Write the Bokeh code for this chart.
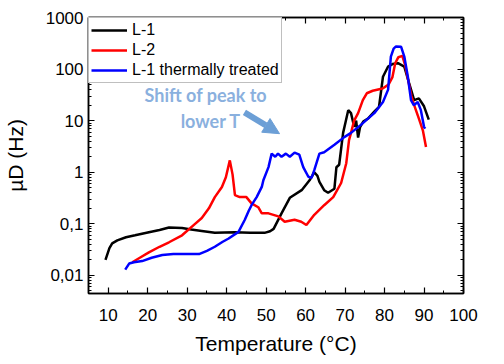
from bokeh.plotting import figure
from bokeh.models import (LinearAxis, LogAxis, FixedTicker, SingleIntervalTicker,
                          CustomJSTickFormatter, Legend, LegendItem, Arrow, NormalHead, Range1d)
from bokeh.core.properties import value
from bokeh.embed import file_html
from bokeh.resources import INLINE

# ---- data ----
t_l1 = [9.3, 10.3, 11.0, 12.3, 14.5, 16.8, 20.3, 23.0, 25.4, 28.7, 31.0, 33.7, 37.0, 42.0, 46.0,
        49.6, 51.0, 51.9, 53.9, 56.0, 59.0, 61.0, 62.2, 63.0, 63.5, 64.7, 65.7, 67.3, 67.8, 68.5,
        69.5, 70.2, 70.8, 71.5, 72.3, 72.8, 73.3, 73.8, 74.6, 75.8, 77.4, 78.6, 79.6, 80.9, 82.0,
        83.4, 85.0, 86.2, 87.5, 88.7, 90.0, 91.2]
v_l1 = [0.02, 0.034, 0.042, 0.048, 0.055, 0.06, 0.069, 0.076, 0.085, 0.083, 0.078, 0.073, 0.067, 0.069, 0.067,
        0.067, 0.072, 0.08, 0.16, 0.32, 0.45, 0.7, 1.0, 0.85, 0.65, 0.45, 0.4, 0.48, 1.25, 1.4,
        5.8, 10, 16, 14, 7.6, 10, 4.7, 7.5, 9.6, 11, 15, 18.6, 71, 112, 125,
        130, 112, 54, 25, 27, 19, 10.5]

t_l2 = [16.1, 18.0, 20.3, 23.0, 25.4, 28.7, 32.0, 33.7, 35.5, 37.0, 38.8, 39.8, 40.8, 41.5, 42.1,
        43.3, 45.0, 46.3, 48.0, 48.9, 50.6, 53.1, 54.7, 57.2, 58.9, 60.2, 62.2, 64.7, 67.0, 69.0,
        70.3, 71.0, 71.5, 72.3, 73.3, 74.5, 75.5, 77.0, 79.5, 81.0, 82.0, 82.7, 83.5, 84.5, 85.2,
        86.0, 86.8, 87.5, 88.7, 89.7, 90.5]
v_l2 = [0.018, 0.022, 0.028, 0.036, 0.044, 0.06, 0.1, 0.13, 0.2, 0.33, 0.52, 0.8, 1.7, 0.9, 0.36,
        0.33, 0.33, 0.25, 0.21, 0.16, 0.16, 0.14, 0.11, 0.12, 0.11, 0.095, 0.15, 0.23, 0.33, 0.62,
        1.5, 4.2, 5.8, 10, 14, 25, 34, 38, 42, 50, 70, 130, 170, 180, 120,
        60, 30, 20, 11, 6.5, 3.1]

t_l1t = [14.3, 15.3, 16.5, 18.6, 21.0, 23.7, 26.5, 29.5, 33.0, 35.0, 37.0, 39.0, 40.5, 43.0, 44.6,
         45.6, 46.3, 47.6, 48.9, 49.3, 50.6, 51.4, 52.3, 53.0, 53.9, 55.0, 56.0, 57.2, 58.4, 59.4,
         60.7, 61.5, 62.2, 63.5, 64.7, 67.3, 69.8, 71.5, 74.0, 77.4, 79.6, 80.9, 81.6, 82.3, 82.9,
         84.2, 85.0, 85.9, 86.7, 87.4, 88.4, 89.2, 90.0, 90.3]
v_l1t = [0.013, 0.017, 0.018, 0.019, 0.022, 0.025, 0.026, 0.026, 0.026, 0.03, 0.036, 0.045, 0.052, 0.07, 0.12,
         0.18, 0.23, 0.33, 0.52, 0.7, 1.26, 2.3, 2.0, 2.3, 2.0, 2.3, 2.0, 2.4, 2.2, 1.26,
         0.82, 0.78, 1.1, 2.3, 2.45, 3.4, 4.8, 5.8, 8.3, 14, 23, 40, 175, 250, 275,
         270, 175, 71, 25, 20, 23, 16, 7.6, 7.0]

series_names = ["L-1", "L-2", "L-1 thermally treated"]
series_colors = ["#000000", "#FF0000", "#0000FF"]

y_major = [0.01, 0.1, 1, 10, 100, 1000]
y_minor = [m * 10.0 ** e for e in range(-3, 3) for m in range(2, 10)]
x_ticks_interval = 10

note_lines = ["Shift of peak to", "lower T"]
note_x = [34.7, 36.0]
note_y = [31.0, 10.0]
arrow_from = (44.5, 14.5)
arrow_to = (53.4, 5.6)

FONT = "Liberation Sans"

p = figure(width=502, height=362, x_axis_type="linear", y_axis_type="log",
           x_range=Range1d(5, 100), y_range=Range1d(0.00447, 1000),
           output_backend="svg", toolbar_location=None,
           min_border_left=86, min_border_right=39, min_border_top=17, min_border_bottom=69)
p.xgrid.visible = False
p.ygrid.visible = False
p.outline_line_color = "#000000"
p.outline_line_width = 1.5
p.background_fill_color = "white"
p.border_fill_color = "white"

renderers = []
for t, v, c in zip([t_l1, t_l2, t_l1t], [v_l1, v_l2, v_l1t], series_colors):
    r = p.line(t, v, line_color=c, line_width=2.5)
    renderers.append(r)

def style_axis(ax):
    ax.axis_line_color = "#000000"
    ax.axis_line_width = 1.5
    ax.major_tick_in = 6
    ax.major_tick_out = 0
    ax.minor_tick_in = 3
    ax.minor_tick_out = 0
    ax.major_tick_line_color = "#000000"
    ax.minor_tick_line_color = "#000000"
    ax.major_tick_line_width = 1.2
    ax.minor_tick_line_width = 1
    ax.major_label_text_font = FONT
    ax.major_label_text_font_size = "17px"
    ax.major_label_text_color = "#000000"
    ax.axis_label_text_font = FONT
    ax.axis_label_text_font_size = "21px"
    ax.axis_label_text_font_style = "normal"
    ax.axis_label_text_color = "#000000"

xax = p.xaxis[0]
style_axis(xax)
xax.ticker = SingleIntervalTicker(interval=x_ticks_interval, num_minor_ticks=2)
xax.axis_label = "Temperature (°C)"
xax.major_label_standoff = 15
xax.axis_label_standoff = 8

yax = p.yaxis[0]
style_axis(yax)
yax.ticker = FixedTicker(ticks=y_major, minor_ticks=y_minor)
yax.formatter = CustomJSTickFormatter(code="return String(tick).replace('.', ',');")
yax.axis_label = "µD (Hz)"
yax.major_label_standoff = 5
yax.axis_label_standoff = 16

top = LinearAxis(ticker=SingleIntervalTicker(interval=x_ticks_interval, num_minor_ticks=2),
                 formatter=CustomJSTickFormatter(code="return '';"))
style_axis(top)
top.major_label_standoff = 0
p.add_layout(top, "above")

right = LogAxis(ticker=FixedTicker(ticks=y_major, minor_ticks=y_minor),
                formatter=CustomJSTickFormatter(code="return '';"))
style_axis(right)
right.major_label_standoff = 0
p.add_layout(right, "right")

legend = Legend(items=[LegendItem(label=n, renderers=[r]) for n, r in zip(series_names, renderers)],
                location="top_left", margin=0, padding=2, spacing=0,
                glyph_width=36, glyph_height=20, label_height=20, label_standoff=5,
                label_text_font=FONT, label_text_font_size="16px", label_text_color="#000000",
                border_line_color="#808080", border_line_width=1, background_fill_alpha=1)
p.add_layout(legend)

note_color = "#8AB0DE"
p.text(x=note_x, y=note_y, text=note_lines, text_font=value("Lato"), text_font_style="bold",
       text_font_size="18px", text_color=note_color, text_align="center", text_baseline="middle")
arrow_color = "#6C9FD6"
p.add_layout(Arrow(end=NormalHead(size=16, fill_color=arrow_color, line_color=arrow_color),
                   x_start=arrow_from[0], y_start=arrow_from[1], x_end=arrow_to[0], y_end=arrow_to[1],
                   line_color=arrow_color, line_width=6))

open("out.html", "w").write(file_html(p, INLINE))
